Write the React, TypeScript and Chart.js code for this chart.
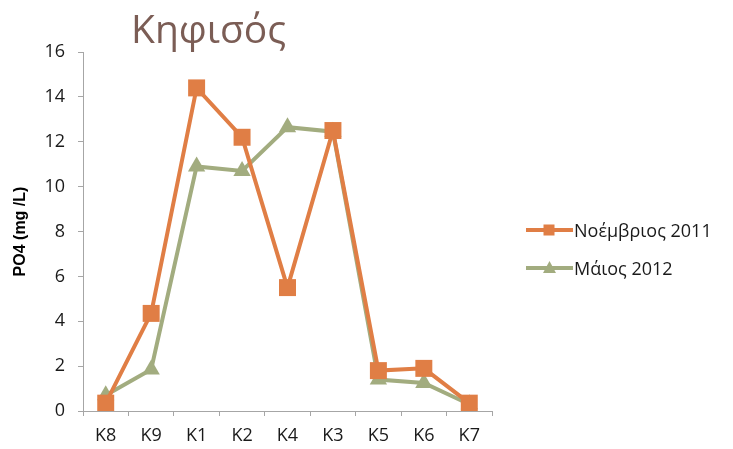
import React, { useEffect, useRef } from "react";
import { Chart, registerables } from "chart.js";

Chart.register(...registerables);

const categories = ["K8", "K9", "K1", "K2", "K4", "K3", "K5", "K6", "K7"];
const november2011 = [0.35, 4.35, 14.4, 12.2, 5.5, 12.5, 1.8, 1.9, 0.35];
const may2012 = [0.7, 1.85, 10.9, 10.7, 12.65, 12.45, 1.4, 1.25, 0.3];
const seriesNames = ["Νοέμβριος 2011", "Μάιος 2012"];
const yTicks = [0, 2, 4, 6, 8, 10, 12, 14, 16];
const titleText = "Κηφισός";
const yTitle = "PO4 (mg /L)";

const ORANGE = "#E07E45";
const GREEN = "#A2AC7F";
const FONT = "Open Sans";

export default function App() {
  const ref = useRef<HTMLCanvasElement | null>(null);

  useEffect(() => {
    if (!ref.current) return;
    Chart.defaults.font.family = FONT;
    Chart.defaults.font.size = 18;
    const chart = new Chart(ref.current, {
      type: "line",
      data: {
        labels: categories,
        datasets: [
          {
            label: seriesNames[0],
            data: november2011,
            borderColor: ORANGE,
            backgroundColor: ORANGE,
            borderWidth: 4,
            pointStyle: "rect",
            pointRadius: 12,
            pointBorderWidth: 0,
            pointBackgroundColor: ORANGE,
            tension: 0,
          },
          {
            label: seriesNames[1],
            data: may2012,
            borderColor: GREEN,
            backgroundColor: GREEN,
            borderWidth: 4,
            pointStyle: "triangle",
            pointRadius: 10,
            pointBorderWidth: 0,
            pointBackgroundColor: GREEN,
            tension: 0,
          },
        ],
      },
      options: {
        animation: false,
        responsive: false,
        maintainAspectRatio: false,
        layout: { padding: { left: 0, top: 52, right: 241, bottom: 0 } },
        plugins: {
          legend: { display: false },
          title: { display: false },
          tooltip: { enabled: false },
        },
        scales: {
          x: {
            type: "category",
            offset: true,
            grid: {
              offset: true,
              drawOnChartArea: false,
              drawTicks: true,
              tickLength: 5,
              color: "#A6A6A6",
            },
            border: { color: "#A6A6A6", width: 1 },
            ticks: {
              color: "#1A1A1A",
              font: { family: FONT, size: 18 },
              padding: 9,
              maxRotation: 0,
              autoSkip: false,
            },
            afterFit: (s: any) => {
              s.height = 38;
            },
          },
          y: {
            min: 0,
            max: 16,
            afterBuildTicks: (s: any) => {
              s.ticks = yTicks.map((v) => ({ value: v }));
            },
            grid: {
              drawOnChartArea: false,
              drawTicks: true,
              tickLength: 5,
              color: "#A6A6A6",
            },
            border: { color: "#A6A6A6", width: 1 },
            ticks: {
              color: "#1A1A1A",
              font: { family: FONT, size: 18 },
              padding: 13,
            },
            title: {
              display: true,
              text: yTitle,
              color: "#000000",
              font: { family: "Liberation Sans", size: 16, weight: "bold" },
              padding: { top: 11, bottom: 4 },
            },
            afterFit: (s: any) => {
              s.width = 83;
            },
          },
        },
      },
    });
    return () => chart.destroy();
  }, []);

  const legendRow = (name: string, color: string, marker: "rect" | "tri", top: number) => (
    <div
      style={{
        position: "absolute",
        left: 526,
        top: top - 12,
        height: 24,
        display: "flex",
        alignItems: "center",
        whiteSpace: "nowrap",
      }}
    >
      <svg width={47} height={24} style={{ display: "block" }}>
        <line x1={0} y1={12} x2={47} y2={12} stroke={color} strokeWidth={4} />
        {marker === "rect" ? (
          <rect x={17.5} y={6.5} width={11} height={11} fill={color} />
        ) : (
          <polygon points="23.5,5 30,17 17,17" fill={color} />
        )}
      </svg>
      <span
        style={{
          fontFamily: "'Open Sans', sans-serif",
          fontSize: 18,
          color: "#1A1A1A",
          marginLeft: 1,
          lineHeight: "24px",
        }}
      >
        {name}
      </span>
    </div>
  );

  return (
    <div style={{ position: "absolute", left: 0, top: 0, width: 733, height: 449, background: "#fff" }}>
      <canvas ref={ref} width={733} height={449} style={{ display: "block" }} />
      <div
        style={{
          position: "absolute",
          left: 131,
          top: 4,
          fontFamily: "'Open Sans', sans-serif",
          fontSize: 39,
          color: "#7B5D55",
          lineHeight: "48px",
          whiteSpace: "nowrap",
        }}
      >
        {titleText}
      </div>
      {legendRow(seriesNames[0], ORANGE, "rect", 230)}
      {legendRow(seriesNames[1], GREEN, "tri", 268)}
    </div>
  );
}
